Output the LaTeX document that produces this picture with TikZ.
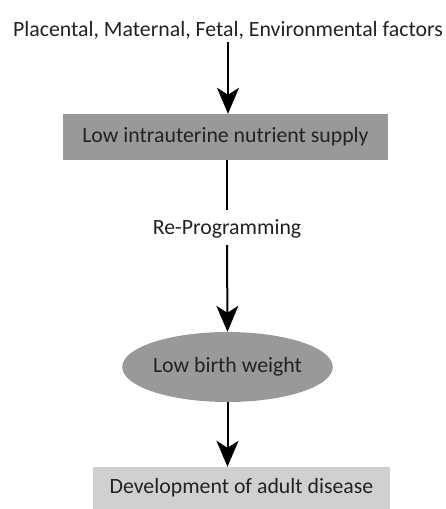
\documentclass[tikz,border=0pt]{standalone}
\usepackage{fontspec}
\setmainfont{Carlito}
\usetikzlibrary{arrows.meta,shapes.geometric}
\definecolor{darkbox}{HTML}{999999}
\definecolor{lightbox}{HTML}{D0D0D0}
\definecolor{txt}{HTML}{222222}
\begin{document}
\begin{tikzpicture}[x=1pt,y=-1pt,
  every node/.style={font=\fontsize{21.8}{24}\selectfont, text=txt, inner sep=0pt},
  conn/.style={line width=2pt, -{Stealth[length=26pt,width=22pt,inset=7pt]}},
  plain/.style={line width=2pt},
  rectbox/.style={rectangle, minimum height=46pt},
]
\useasboundingbox (0,0) rectangle (446,509);
\node (top) at (228,30) {Placental, Maternal, Fetal, Environmental factors};
\node[rectbox, fill=darkbox, minimum width=325pt] (supply) at (225.5,137) {Low intrauterine nutrient supply};
\node (rp) at (227,229) {Re-Programming};
\node[ellipse, fill=darkbox, minimum width=193pt, minimum height=70pt] (lbw) at (227.5,367) {Low birth weight};
\node[rectbox, fill=lightbox, minimum width=297pt, minimum height=42pt] (dev) at (241.5,488) {Development of adult disease};
\coordinate (a1s) at (228,42);
\draw[conn] (a1s) -- (supply.north -| a1s);
\draw[plain] (supply.south -| rp) -- ([yshift=19pt]rp.center);
\draw[conn] ([yshift=-16pt]rp.center) -- (lbw.north);
\draw[conn] (lbw.south) -- (dev.north -| lbw.south);
\end{tikzpicture}
\end{document}
